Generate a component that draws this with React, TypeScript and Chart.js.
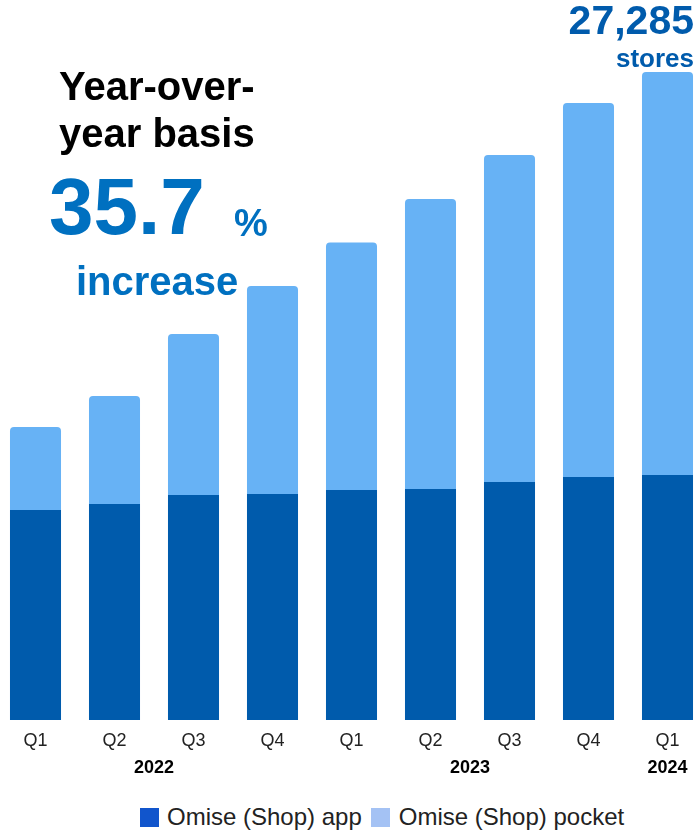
import React, { useEffect, useRef } from "react";
import { Chart, registerables } from "chart.js";

Chart.register(...registerables);

// Quarterly store counts, 2022 Q1 – 2024 Q1
const quarterLabels = ["Q1", "Q2", "Q3", "Q4", "Q1", "Q2", "Q3", "Q4", "Q1"];
const yearLabels = ["2022", "2023", "2024"];
// category slot each year caption sits under (between Q2 and Q3, or under the lone Q1)
const yearSlots = [1.5, 5.5, 8];
const appStores = [8840, 9100, 9470, 9520, 9680, 9730, 10020, 10230, 10320];
const pocketStores = [3500, 4540, 6780, 8750, 10430, 12210, 13770, 15750, 16965];
const seriesNames = ["Omise (Shop) app", "Omise (Shop) pocket"];

const APP_COLOR = "#005BAC";
const POCKET_COLOR = "#67B2F5";
const LEGEND_APP = "#1155CC";
const LEGEND_POCKET = "#A4C2F4";
const FONT = "'Liberation Sans', Arial, Helvetica, sans-serif";

const totals = appStores.map((v, i) => v + pocketStores[i]);
const latestTotal = totals[totals.length - 1];
const yoyBase = totals[totals.length - 5];
const yoyPct = ((latestTotal / yoyBase - 1) * 100).toFixed(1);

const yearCaptionPlugin = {
  id: "yearCaptions",
  afterDraw(chart: any) {
    const { ctx } = chart;
    const x = chart.scales.x;
    ctx.save();
    ctx.font = `bold 18px ${FONT}`;
    ctx.fillStyle = "#000";
    ctx.textAlign = "center";
    ctx.textBaseline = "alphabetic";
    yearLabels.forEach((t, i) => {
      ctx.fillText(t, x.getPixelForValue(yearSlots[i]), x.top + 53);
    });
    ctx.restore();
  },
};

export default function App() {
  const canvasRef = useRef<HTMLCanvasElement | null>(null);

  useEffect(() => {
    if (!canvasRef.current) return;
    const chart = new Chart(canvasRef.current, {
      type: "bar",
      data: {
        labels: quarterLabels,
        datasets: [
          {
            label: seriesNames[0],
            data: appStores,
            backgroundColor: APP_COLOR,
            borderWidth: 0,
            barPercentage: 0.646,
            categoryPercentage: 1,
          },
          {
            label: seriesNames[1],
            data: pocketStores,
            backgroundColor: POCKET_COLOR,
            borderWidth: 0,
            borderRadius: { topLeft: 4, topRight: 4, bottomLeft: 0, bottomRight: 0 },
            barPercentage: 0.646,
            categoryPercentage: 1,
          },
        ],
      },
      options: {
        responsive: false,
        animation: false,
        layout: { padding: { top: 72, left: 0, right: 0, bottom: 0 } },
        plugins: {
          legend: { display: false },
          tooltip: { enabled: false },
        },
        scales: {
          x: {
            stacked: true,
            grid: { display: false, drawTicks: false },
            border: { display: false },
            ticks: {
              color: "#222",
              font: { family: FONT, size: 18 },
              padding: 10,
            },
            afterFit: (scale: any) => {
              scale.height = 70;
            },
          },
          y: {
            stacked: true,
            display: false,
            min: 0,
            max: latestTotal,
          },
        },
      },
      plugins: [yearCaptionPlugin],
    });
    return () => chart.destroy();
  }, []);

  const abs = (extra: React.CSSProperties): React.CSSProperties => ({
    position: "absolute",
    fontFamily: FONT,
    fontWeight: "bold",
    lineHeight: 1,
    whiteSpace: "nowrap",
    margin: 0,
    ...extra,
  });

  return (
    <div
      style={{
        position: "absolute",
        left: 0,
        top: 0,
        width: 697,
        height: 830,
        overflow: "hidden",
        background: "#fff",
      }}
    >
      <canvas
        ref={canvasRef}
        width={711}
        height={790}
        style={{ position: "absolute", left: -4, top: 0 }}
      />

      <div style={abs({ left: 59, top: 66, fontSize: 40, color: "#000" })}>Year-over-</div>
      <div style={abs({ left: 59, top: 113, fontSize: 40, color: "#000" })}>year basis</div>
      <div style={abs({ left: 49, top: 167, fontSize: 80, color: "#0070C0" })}>{yoyPct}</div>
      <div style={abs({ left: 234, top: 204, fontSize: 38, color: "#0070C0" })}>%</div>
      <div style={abs({ left: 76, top: 261, fontSize: 40, color: "#0070C0" })}>increase</div>

      <div style={abs({ right: 3, top: 0, fontSize: 41, color: APP_COLOR })}>
        {latestTotal.toLocaleString("en-US")}
      </div>
      <div style={abs({ right: 3, top: 45, fontSize: 26, color: APP_COLOR })}>stores</div>

      <div
        style={{
          position: "absolute",
          left: 140,
          top: 805,
          height: 24,
          display: "flex",
          alignItems: "center",
          fontFamily: FONT,
          fontSize: 24,
          color: "#222",
          whiteSpace: "nowrap",
        }}
      >
        <span style={{ width: 19, height: 19, background: LEGEND_APP, display: "inline-block" }} />
        <span style={{ marginLeft: 8, lineHeight: 1 }}>{seriesNames[0]}</span>
        <span
          style={{
            width: 19,
            height: 19,
            background: LEGEND_POCKET,
            display: "inline-block",
            marginLeft: 9,
          }}
        />
        <span style={{ marginLeft: 9, lineHeight: 1 }}>{seriesNames[1]}</span>
      </div>
    </div>
  );
}
